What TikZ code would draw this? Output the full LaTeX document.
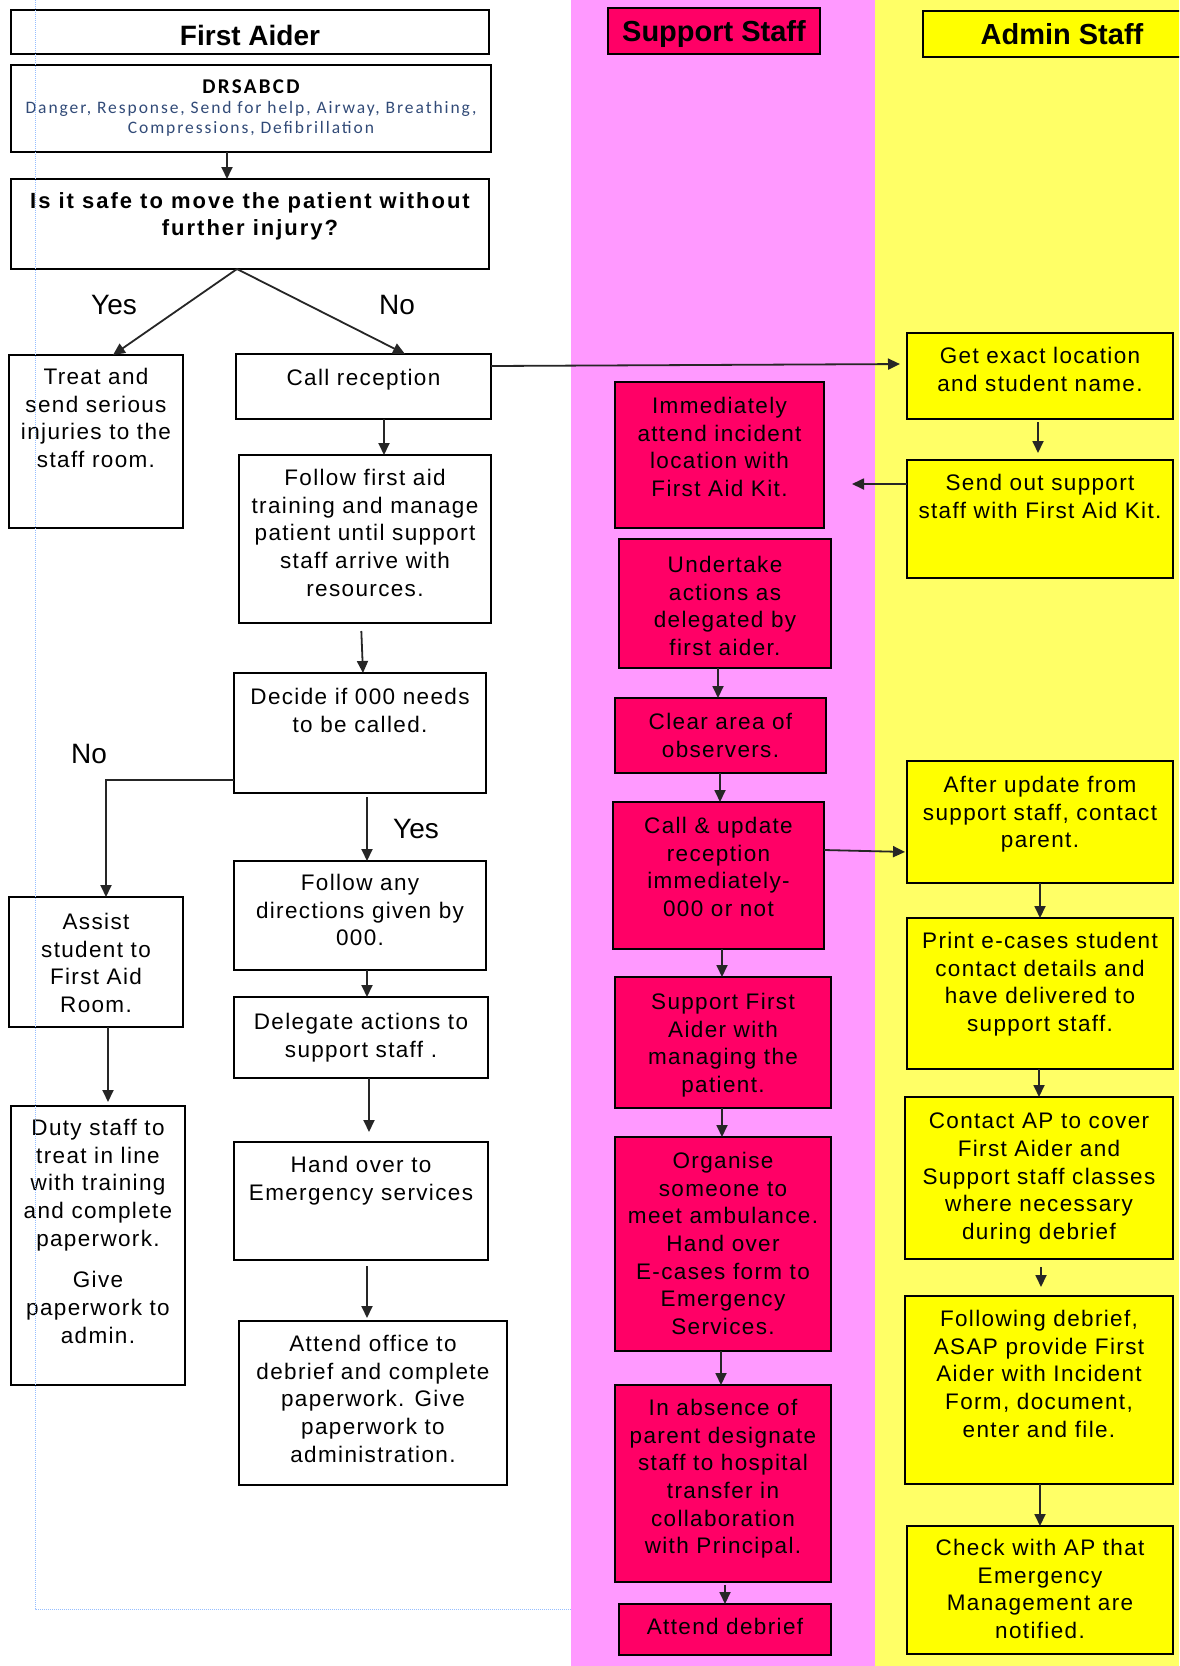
\documentclass[tikz,border=0pt]{standalone}
\usepackage{fontspec}
\setmainfont{Liberation Sans}[LetterSpace=6]
\newfontfamily\plainfont{Liberation Sans}
\newfontfamily\boldsp{Liberation Sans}[LetterSpace=9]
\newfontfamily\calfont{Carlito}[LetterSpace=11]
\usetikzlibrary{arrows.meta}
\definecolor{pinkbg}{RGB}{255,153,255}
\definecolor{yellowbg}{RGB}{255,255,102}
\definecolor{redbox}{RGB}{255,0,102}
\definecolor{yelbox}{RGB}{255,255,0}
\definecolor{guide}{RGB}{150,190,255}
\definecolor{drsblue}{RGB}{50,75,120}
\newcommand{\mkbox}[8]{%
  \node[#6, minimum width={(#4-#2)*1pt}, minimum height={(#5-#3)*1pt}] (#1) at ({(#2+#4)/2},{(#3+#5)/2}) {};
  \node[txt] (#1t) at ([yshift=-#7pt]#1.north) {#8};
}
\tikzset{
 wbox/.style={draw=black, line width=2pt, fill=white, inner sep=0pt, outer sep=0pt},
 rbox/.style={wbox, fill=redbox},
 ybox/.style={wbox, fill=yelbox},
 txt/.style={inner sep=0pt, outer sep=0pt, align=center, anchor=north, font=\fontsize{22.5}{27.7}\selectfont, text=black},
 arr/.style={draw=black!85, line width=1.8pt, -{Triangle[length=12pt,width=11pt]}},
 lbl/.style={inner sep=0pt, font=\plainfont\fontsize{28}{30}\selectfont},
 hdr/.style={wbox, font=\plainfont\bfseries\fontsize{29}{32}\selectfont},
}
\begin{document}
\begin{tikzpicture}[x=1pt,y=-1pt]
\useasboundingbox (0,0) rectangle (1179,1666);
\clip (0,0) rectangle (1179,1666);
\fill[white] (0,0) rectangle (1179,1666);
\fill[pinkbg] (571,0) rectangle (875,1666);
\fill[yellowbg] (875,0) rectangle (1179,1666);

% headers
\node[hdr, minimum width=478pt, minimum height=44pt, text height=27pt, text depth=0pt, font=\plainfont\bfseries\fontsize{28}{30}\selectfont] (fah) at (250,32) {First Aider};
\node[hdr, fill=redbox, minimum width=212pt, minimum height=46pt, text depth=0pt] (ssh) at (714,31) {Support Staff};
\node[hdr, fill=yelbox, minimum width=278pt, minimum height=46pt] (ash) at (1062,34) {Admin Staff};

% First Aider column
\node[wbox, minimum width=480pt, minimum height=87pt] (drs) at (251,108.5) {};
\node[inner sep=0pt, anchor=north, align=center, font=\calfont\fontsize{17.5}{20}\selectfont, text=drsblue] (drst) at ([yshift=-15pt]drs.north)
  {{\bfseries\color{black}\fontsize{21}{20}\selectfont DRSABCD}\\Danger, Response, Send for help, Airway, Breathing,\\Compressions, Defibrillation};

\node[wbox, minimum width=478pt, minimum height=90pt] (safe) at (250,224) {};
\node[txt, font=\boldsp\bfseries\fontsize{22}{26.5}\selectfont] (safet) at ([yshift=-14pt]safe.north) {Is it safe to move the patient without\\further injury?};

\node[lbl] (yes1) at (114,305) {Yes};
\node[lbl] (no1) at (397,305) {No};
\node[lbl] (no2) at (89,754) {No};
\node[lbl] (yes2) at (416,829) {Yes};

\mkbox{treat}{9}{355}{183}{528}{wbox}{13}{Treat and\\send serious\\injuries to the\\staff room.}
\mkbox{callr}{236}{354}{491}{419}{wbox}{15}{Call reception}
\mkbox{ffa}{239}{455}{491}{623}{wbox}{14}{Follow first aid\\training and manage\\patient until support\\staff arrive with\\resources.}
\mkbox{decide}{234}{673}{486}{793}{wbox}{15}{Decide if 000 needs\\to be called.}
\mkbox{assist}{9}{897}{183}{1027}{wbox}{16}{Assist\\student to\\First Aid\\Room.}
\mkbox{fany}{234}{861}{486}{970}{wbox}{13}{Follow any\\directions given by\\000.}
\mkbox{deleg}{234}{997}{488}{1078}{wbox}{16}{Delegate actions to\\support staff .}
\mkbox{hand}{234}{1142}{488}{1260}{wbox}{14}{Hand over to\\Emergency services}
\mkbox{duty}{11}{1106}{185}{1385}{wbox}{13}{Duty staff to\\treat in line\\with training\\and complete\\paperwork.\\[14pt]Give\\paperwork to\\admin.}
\mkbox{attoff}{239}{1321}{507}{1485}{wbox}{14}{Attend office to\\debrief and complete\\paperwork. Give\\paperwork to\\administration.}

% Support Staff column
\mkbox{imm}{615}{382}{824}{528}{rbox}{15}{Immediately\\attend incident\\location with\\First Aid Kit.}
\mkbox{und}{619}{539}{831}{668}{rbox}{17}{Undertake\\actions as\\delegated by\\first aider.}
\mkbox{clr}{615}{698}{826}{773}{rbox}{15}{Clear area of\\observers.}
\mkbox{cupd}{613}{802}{824}{949}{rbox}{15}{Call \& update\\reception\\immediately-\\000 or not}
\mkbox{supp}{615}{977}{831}{1108}{rbox}{16}{Support First\\Aider with\\managing the\\patient.}
\mkbox{org}{615}{1137}{831}{1351}{rbox}{15}{Organise\\someone to\\meet ambulance.\\Hand over\\E-cases form to\\Emergency\\Services.}
\mkbox{abs}{615}{1385}{831}{1582}{rbox}{14}{In absence of\\parent designate\\staff to hospital\\transfer in\\collaboration\\with Principal.}
\mkbox{deb}{619}{1604}{831}{1655}{rbox}{14}{Attend debrief}

% Admin Staff column
\mkbox{get}{907}{333}{1173}{419}{ybox}{14}{Get exact location\\and student name.}
\mkbox{send}{907}{460}{1173}{578}{ybox}{14}{Send out support\\staff with First Aid Kit.}
\mkbox{after}{907}{761}{1173}{883}{ybox}{15}{After update from\\support staff, contact\\parent.}
\mkbox{print}{907}{918}{1173}{1069}{ybox}{14}{Print e-cases student\\contact details and\\have delivered to\\support staff.}
\mkbox{contact}{905}{1097}{1173}{1259}{ybox}{16}{Contact AP to cover\\First Aider and\\Support staff classes\\where necessary\\during debrief}
\mkbox{follow}{905}{1296}{1173}{1484}{ybox}{14}{Following debrief,\\ASAP provide First\\Aider with Incident\\Form, document,\\enter and file.}
\mkbox{check}{907}{1526}{1173}{1654}{ybox}{13}{Check with AP that\\Emergency\\Management are\\notified.}

% connectors - First Aider
\draw[arr] ([xshift=-24pt]drs.south) -- ([xshift=-23pt]safe.north);
\draw[arr] ([xshift=-13pt]safe.south) -- ([xshift=17pt]treat.north);
\draw[arr] ([xshift=-13pt]safe.south) -- ([xshift=41.5pt]callr.north);
\draw[arr] ([xshift=20.5pt]callr.south) -- ([xshift=19pt]ffa.north);
\draw[arr, shorten <=8pt] ([xshift=-4pt]ffa.south) -- ([xshift=3pt]decide.north);
\draw[arr] ([yshift=-47pt]decide.west) -| ([xshift=10pt]assist.north);
\draw[arr, shorten <=4pt] ([xshift=7pt]decide.south) -- ([xshift=7pt]fany.north);
\draw[arr] ([xshift=7pt]fany.south) -- ([xshift=6pt]deleg.north);
\draw[arr, shorten >=10pt] ([xshift=8pt]deleg.south) -- ([xshift=8pt]hand.north);
\draw[arr, shorten <=6pt, shorten >=3pt] ([xshift=6pt]hand.south) -- ([xshift=-6pt]attoff.north);
\draw[arr, shorten >=4pt] ([xshift=12pt]assist.south) -- ([xshift=10pt]duty.north);
% cross-lane
\draw[arr, shorten >=7pt] ([yshift=20.5pt]callr.east) -- ([yshift=12pt]get.west);
\draw[arr, shorten >=28pt] ([yshift=35pt]send.west) -- ([yshift=-29pt]imm.east);
\draw[arr, shorten >=2pt] ([yshift=25.5pt]cupd.east) -- ([yshift=-30pt]after.west);
% Support Staff
\draw[arr] ([xshift=-7pt]und.south) -- ([xshift=-2.5pt]clr.north);
\draw[arr] ([xshift=-0.5pt]clr.south) -- ([xshift=1.5pt]cupd.north);
\draw[arr] ([xshift=3.5pt]cupd.south) -- ([xshift=-1pt]supp.north);
\draw[arr] ([xshift=-1pt]supp.south) -- ([xshift=-1pt]org.north);
\draw[arr] ([xshift=-2pt]org.south) -- ([xshift=-2pt]abs.north);
\draw[arr, shorten <=3pt] ([xshift=2pt]abs.south) -- (deb.north);
% Admin Staff
\draw[arr, shorten <=3pt, shorten >=7pt] ([xshift=-2pt]get.south) -- ([xshift=-2pt]send.north);
\draw[arr] (after.south) -- (print.north);
\draw[arr] ([xshift=-1pt]print.south) -- (contact.north);
\draw[arr, shorten <=8pt, shorten >=9pt] ([xshift=2pt]contact.south) -- ([xshift=2pt]follow.north);
\draw[arr] ([xshift=1pt]follow.south) -- (check.north);

% page guides
\draw[guide, densely dotted, line width=1pt] (35,0) -- (35,1609) -- (571,1609);
\end{tikzpicture}
\end{document}
